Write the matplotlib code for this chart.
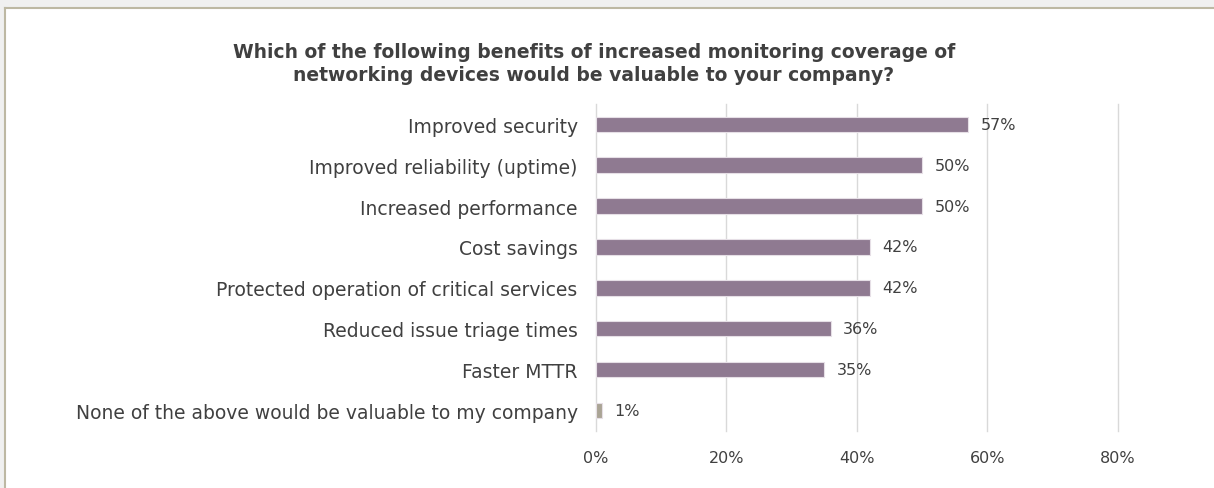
import matplotlib
matplotlib.use("Agg")
import matplotlib.pyplot as plt
from matplotlib.patches import Rectangle
from matplotlib.lines import Line2D

categories = [
    "Improved security",
    "Improved reliability (uptime)",
    "Increased performance",
    "Cost savings",
    "Protected operation of critical services",
    "Reduced issue triage times",
    "Faster MTTR",
    "None of the above would be valuable to my company",
]
values = [57, 50, 50, 42, 42, 36, 35, 1]
bar_colors = ["#8f7a91"] * 7 + ["#aaa495"]
xticks = [0, 20, 40, 60, 80]
xtick_labels = ["0%", "20%", "40%", "60%", "80%"]
title = ("Which of the following benefits of increased monitoring coverage of\n"
         "networking devices would be valuable to your company?")

W, H = 1214, 489
fig = plt.figure(figsize=(W / 100, H / 100), dpi=100)
fig.patch.set_facecolor("white")

# outer frame (grey margin + beige border line)
fig.patches.append(Rectangle((0, 1 - 8 / H), 1, 8 / H, transform=fig.transFigure,
                             facecolor="#f0f0f0", edgecolor="none", zorder=0))
fig.patches.append(Rectangle((0, 0), 4 / W, 1, transform=fig.transFigure,
                             facecolor="#f0f0f0", edgecolor="none", zorder=0))
fig.lines.append(Line2D([4.5 / W, 1], [1 - 8.5 / H, 1 - 8.5 / H], transform=fig.transFigure,
                        color="#bdb8a3", lw=1.5))
fig.lines.append(Line2D([4.5 / W, 4.5 / W], [0, 1 - 8.5 / H], transform=fig.transFigure,
                        color="#bdb8a3", lw=1.5))

left, right = 595.7 / W, 1118 / W
bottom, top = 1 - 431.7 / H, 1 - 105 / H
ax = fig.add_axes([left, bottom, right - left, top - bottom])

ypos = list(range(len(categories)))
ax.barh(ypos, values, height=0.38, color=bar_colors, edgecolor="#e6dfe6",
        linewidth=0.8, zorder=3)
ax.set_ylim(len(categories) - 0.5, -0.5)
ax.set_xlim(0, 80)
ax.set_xticks(xticks)
ax.set_xticklabels(xtick_labels)
ax.set_yticks(ypos)
ax.set_yticklabels(categories)

font = "DejaVu Sans"
for lab in ax.get_yticklabels():
    lab.set_fontfamily(font)
    lab.set_fontsize(13.5)
    lab.set_color("#404040")
for lab in ax.get_xticklabels():
    lab.set_fontfamily(font)
    lab.set_fontsize(11.5)
    lab.set_color("#404040")
ax.tick_params(axis="y", length=0, pad=13)
ax.tick_params(axis="x", length=0, pad=14)

ax.grid(axis="x", color="#d9d9d9", lw=1, zorder=0)
for gl in ax.get_xgridlines():
    gl.set_clip_on(False)
for s in ax.spines.values():
    s.set_visible(False)

for y, v in zip(ypos, values):
    ax.annotate(f"{v}%", xy=(v, y), xytext=(9, 0), textcoords="offset points",
                va="center", ha="left", fontsize=11.5, color="#404040", family=font)

fig.text(594 / W, 1 - 64 / H, title, ha="center", va="center", fontsize=13.5,
         fontweight="bold", color="#404040", family=font, linespacing=1.3)

fig.savefig("out.png", dpi=100)
